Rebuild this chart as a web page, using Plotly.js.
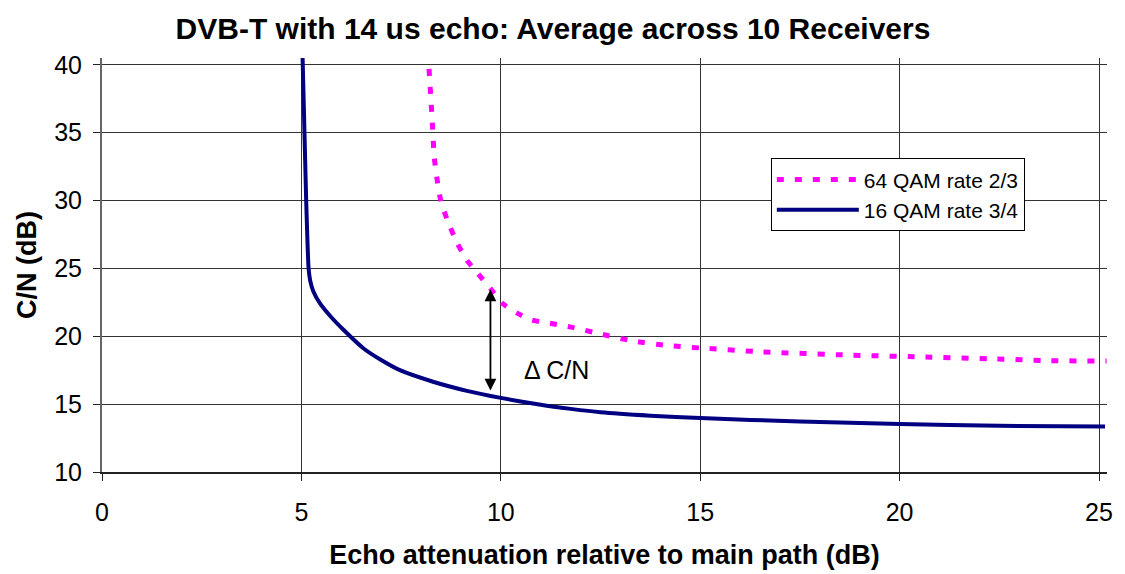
<!DOCTYPE html>
<html>
<head>
<meta charset="utf-8">
<script src="https://cdn.plot.ly/plotly-3.0.1.min.js"></script>
<style>html,body{margin:0;padding:0;background:#fff;}#chart{width:1125px;height:574px;}</style>
</head>
<body>
<div id="chart"></div>
<script>
// Data
const qam64Name = '64 QAM rate 2/3';
const qam64X = [8.20, 8.28, 8.33, 8.40, 8.50, 8.68, 8.90, 9.15, 9.43, 9.73, 10.03, 10.41, 10.78, 11.18, 11.74, 12.49, 13.31, 14.24, 14.99, 16.56, 18.67, 20.50, 22.43, 23.76, 25.19];
const qam64Y = [39.7, 35.9, 33.2, 31.6, 29.9, 28.4, 26.9, 25.6, 24.6, 23.55, 22.45, 21.7, 21.2, 20.98, 20.69, 20.18, 19.65, 19.3, 19.14, 18.85, 18.62, 18.48, 18.33, 18.2, 18.18];

const qam16Name = '16 QAM rate 3/4';
const qam16X = [5.03, 5.06, 5.12, 5.18, 5.22, 5.30, 5.47, 5.75, 6.06, 6.56, 7.0, 7.47, 8.3, 9.15, 10.0, 11.0, 11.75, 12.5, 13.75, 15.0, 17.5, 20.0, 22.5, 25.15];
const qam16Y = [40.5, 37, 30, 25, 24.1, 23.3, 22.4, 21.4, 20.46, 19.1, 18.25, 17.5, 16.65, 15.98, 15.46, 14.95, 14.65, 14.4, 14.15, 13.97, 13.72, 13.53, 13.4, 13.35];

const xTicks = [0, 5, 10, 15, 20, 25];
const yTicks = [10, 15, 20, 25, 30, 35, 40];

// Delta C/N arrow and label
const arrowX = 9.74;
const arrowTop = 23.45;
const arrowBottom = 15.9;
const deltaLabel = '\u0394 C/N';
const deltaX = 11.39;
const deltaY = 17.5;

const titleText = 'DVB-T with 14 us echo: Average across 10 Receivers';
const xTitle = 'Echo attenuation relative to main path (dB)';
const yTitle = 'C/N (dB)';

const FONT = 'Liberation Sans, Arial, Helvetica, sans-serif';

const traces = [
  {
    x: qam64X, y: qam64Y, name: qam64Name, mode: 'lines', type: 'scatter',
    line: {color: '#FF00FF', width: 5, dash: '7px,11px', shape: 'spline', smoothing: 0.5}
  },
  {
    x: qam16X, y: qam16Y, name: qam16Name, mode: 'lines', type: 'scatter',
    line: {color: '#000080', width: 4, shape: 'spline', smoothing: 0.5}
  }
];

const layout = {
  width: 1125, height: 574,
  margin: {l: 101.5, r: 17.5, t: 57.5, b: 101.7},
  paper_bgcolor: '#ffffff', plot_bgcolor: '#ffffff',
  font: {family: FONT, color: '#000000', size: 25},
  title: {
    text: '<b>' + titleText + '</b>',
    font: {family: FONT, size: 30, color: '#000'},
    x: 553/1125, xanchor: 'center', xref: 'container',
    y: 1 - 28/574, yanchor: 'middle', yref: 'container'
  },
  xaxis: {
    range: [0, 25.2], tickvals: xTicks, ticktext: xTicks.map(String),
    showgrid: true, gridcolor: '#333333', gridwidth: 1,
    zeroline: false, showline: true, linecolor: '#222', linewidth: 1.5,
    ticks: 'outside', ticklen: 7, tickcolor: '#222', tickwidth: 1,
    tickfont: {family: FONT, size: 25, color: '#000'},
    ticklabelstandoff: 10,
    title: {text: '<b>' + xTitle + '</b>', font: {family: FONT, size: 27, color: '#000'}, standoff: 20}
  },
  yaxis: {
    range: [10, 40.5], tickvals: yTicks, ticktext: yTicks.map(String),
    showgrid: true, gridcolor: '#333333', gridwidth: 1,
    zeroline: false, showline: true, linecolor: '#666', linewidth: 2,
    ticks: 'outside', ticklen: 7, tickcolor: '#222', tickwidth: 1,
    tickfont: {family: FONT, size: 25, color: '#000'},
    ticklabelstandoff: 6,
    title: {text: '<b>' + yTitle + '</b>', font: {family: FONT, size: 27, color: '#000'}, standoff: 10}
  },
  legend: {
    x: (771 - 101.5) / 1006, y: (472.3 - 158) / 414.8, xanchor: 'left', yanchor: 'top',
    bgcolor: '#ffffff', bordercolor: '#000000', borderwidth: 1,
    font: {family: FONT, size: 21, color: '#000'},
    itemwidth: 82, tracegroupgap: 0
  },
  showlegend: true,
  annotations: [
    {
      x: arrowX, y: arrowTop, ax: arrowX, ay: arrowBottom,
      xref: 'x', yref: 'y', axref: 'x', ayref: 'y',
      text: '', showarrow: true, arrowhead: 2, arrowside: 'end+start',
      arrowsize: 1.3, arrowwidth: 1.8, arrowcolor: '#000'
    },
    {
      x: deltaX, y: deltaY, xref: 'x', yref: 'y', text: deltaLabel,
      showarrow: false, font: {family: FONT, size: 25, color: '#000'},
      xanchor: 'center', yanchor: 'middle'
    }
  ]
};

Plotly.newPlot('chart', traces, layout, {displayModeBar: false, staticPlot: true});
</script>
</body>
</html>
